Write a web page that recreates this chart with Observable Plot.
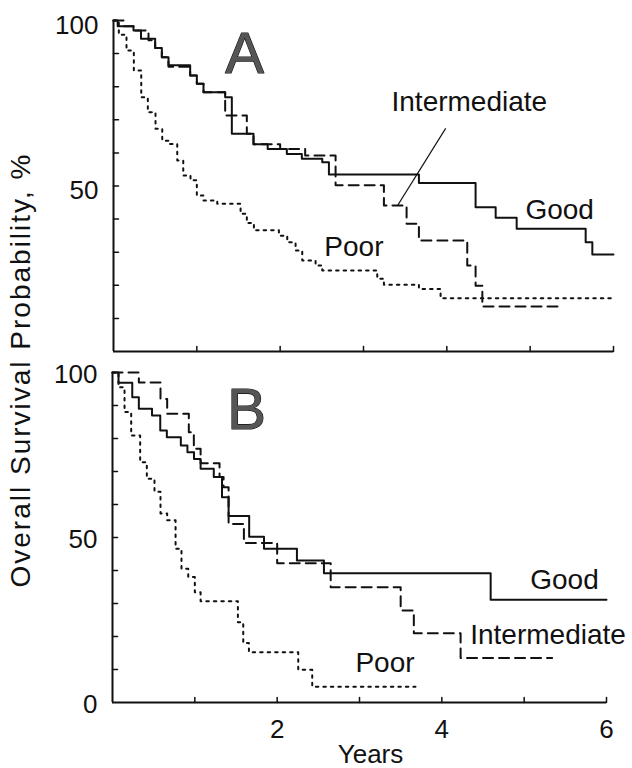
<!DOCTYPE html>
<html><head><meta charset="utf-8">
<script src="https://cdn.jsdelivr.net/npm/d3@7"></script>
<script src="https://cdn.jsdelivr.net/npm/@observablehq/plot@0.6"></script>
<style>
body{margin:0;background:#fff;}
#wrap{position:relative;width:632px;height:768px;font-family:"Liberation Sans",Arial,sans-serif;overflow:hidden;background:#fff;}
#wrap svg{position:absolute;left:0;}
#ylab{position:absolute;z-index:5;left:21px;top:370px;transform:translate(-50%,-50%) rotate(-90deg);white-space:nowrap;font-size:28px;letter-spacing:2px;color:#111;}
</style></head><body><div id="wrap"><div id="ylab">Overall Survival Probability, %</div></div>
<script>
// ---- Panel A data (years, overall survival %) ----
const aGoodYears = [0,0.05,0.24,0.33,0.5,0.58,0.66,0.92,1.0,1.08,1.34,1.42,1.68,1.85,2.08,2.26,2.505,2.585,3.665,4.345,4.586,4.838,5.666,5.746,6.0];
const aGoodSurv  = [100,98.3,97,94.5,91.7,88.9,86.5,83.4,80.9,78.3,76.8,65.8,62.6,61.2,59.7,58.2,57.2,53.5,50.9,43.6,40.4,37.1,33.0,29.3,29.3];
const aInterYears = [0,0.12,0.24,0.42,0.5,0.58,0.66,0.92,1.0,1.08,1.34,1.6,1.68,2.0,2.3,2.665,3.245,3.517,3.665,4.245,4.345,4.426,5.366];
const aInterSurv  = [100,98.3,97,94,91.7,88.9,86,83.4,80.9,78.3,71.3,65.8,62.6,61.2,59.2,50.2,44.1,38.6,33.5,26.0,19.9,13.6,13.6];
const aPoorYears = [0,0.064,0.156,0.244,0.333,0.412,0.504,0.585,0.672,0.765,0.837,0.924,1.0,1.08,1.245,1.525,1.6,1.685,1.985,2.085,2.185,2.265,2.425,2.505,3.165,3.245,3.665,3.925,6.0];
const aPoorSurv  = [100,95.7,90.9,84.9,76.8,72.3,67.3,63.7,62.7,57.7,53.2,51.7,47.1,45.6,44.6,41.6,38.8,36.6,35.0,33.0,30.5,27.5,26.0,24.5,22.0,20.2,18.9,16.1,16.1];

// ---- Panel B data ----
const bGoodYears = [0,0.073,0.24,0.32,0.48,0.58,0.66,0.83,0.91,0.99,1.07,1.23,1.33,1.41,1.66,1.84,2.24,2.568,4.593,6.0];
const bGoodSurv  = [100,96.9,92.5,89,87,82.4,80.4,77.9,75.8,73.8,70.8,68.3,62.2,56.5,50.2,46.6,43.0,39.2,31.1,31.1];
const bInterYears = [0,0.32,0.583,0.664,0.927,0.988,1.07,1.3,1.349,1.41,1.596,2.0,2.65,3.5,3.66,4.228,5.34];
const bInterSurv  = [100,97,92,87.5,81.9,76.9,72.5,68.3,65.2,54.1,48.3,42.2,34.9,27.9,21.0,13.5,13.5];
const bPoorYears = [0,0.073,0.146,0.227,0.336,0.417,0.51,0.583,0.664,0.766,0.838,0.92,1.0,1.07,1.523,1.588,1.657,2.256,2.426,3.68];
const bPoorSurv  = [100,95.5,88,80.9,72.8,67.8,63.9,57.3,55.2,46.6,40.5,38.0,33.4,30.7,24.3,18.0,15.2,9.9,4.8,4.8];

// ---- ticks and labels ----
const yMinorTicks = [10,20,30,40,50,60,70,80,90];
const xMinorTicks = [1,2,3,4,5,6];
const yTickLabelsA = [50,100];
const yTickLabelsB = [0,50,100];
const xTickLabelsB = [2,4,6];
const groupLabelsA = [
  {name:"Intermediate", t:4.27, s:75.3},
  {name:"Good", t:5.354, s:42.6},
  {name:"Poor", t:2.885, s:31.5}
];
const groupLabelsB = [
  {name:"Good", t:5.49, s:37.0},
  {name:"Intermediate", t:5.29, s:20.3},
  {name:"Poor", t:3.31, s:12.0}
];
const leaderA = [{t1:3.986, s1:67.4, t2:3.409, s2:44.1}];
const panelLetterA = [{name:"A", t:1.573, s:89.7}];
const panelLetterB = [{name:"B", t:1.628, s:88.5}];

const rows = (years, surv) => years.map((t, i) => ({t, s: surv[i]}));
const tickShape = {draw(ctx, l) { ctx.moveTo(0, 0); ctx.lineTo(0, -l); }};
const FONT = "'Liberation Sans', Arial, sans-serif";

function panel(cfg) {
  const marks = [
    Plot.ruleX([0], {strokeWidth: 2}),
    Plot.ruleY([0], {strokeWidth: 2}),
    Plot.vector(yMinorTicks, {x: 0, y: d => d, length: 5, rotate: 90, anchor: "start", shape: tickShape, strokeWidth: 1.5}),
    Plot.vector(xMinorTicks, {x: d => d, y: 0, length: 5, rotate: 0, anchor: "start", shape: tickShape, strokeWidth: 1.5}),
    Plot.line(cfg.good, {x: "t", y: "s", curve: "step-after", strokeWidth: 2}),
    Plot.line(cfg.inter, {x: "t", y: "s", curve: "step-after", strokeWidth: 2, strokeDasharray: "10,6"}),
    Plot.line(cfg.poor, {x: "t", y: "s", curve: "step-after", strokeWidth: 2, strokeDasharray: "2.5,5"}),
    Plot.text(cfg.yLabels, {x: 0, y: d => d, text: d => String(d), textAnchor: "end", dx: -15, dy: cfg.yLabelDy, fontSize: 26}),
    Plot.text(cfg.groups, {x: "t", y: "s", text: "name", fontSize: 28, textAnchor: "middle", lineAnchor: "middle"}),
    Plot.text(cfg.letter, {x: "t", y: "s", text: "name", fontSize: 58, fill: "#555", stroke: "#111", strokeWidth: 1.2, lineAnchor: "middle"})
  ];
  if (cfg.leader) marks.push(Plot.link(cfg.leader, {x1: "t1", y1: "s1", x2: "t2", y2: "s2", strokeWidth: 1.2}));
  if (cfg.xLabels) {
    marks.push(Plot.text(cfg.xLabels, {x: d => d, y: 0, text: d => String(d), dy: 27, fontSize: 26, lineAnchor: "middle"}));
    marks.push(Plot.text(["Years"], {frameAnchor: "bottom", dx: 11, dy: 52, fontSize: 26, lineAnchor: "middle"}));
  }
  return Plot.plot({
    width: 632, height: cfg.height,
    marginLeft: cfg.mL, marginRight: cfg.mR, marginTop: cfg.mT, marginBottom: cfg.mB,
    x: {domain: [0, 6], axis: null},
    y: {domain: [0, 100], axis: null},
    style: {fontFamily: FONT, color: "#111", background: "transparent", overflow: "visible"},
    marks
  });
}

const wrap = document.getElementById("wrap");
const plotA = panel({
  height: 360, mL: 113, mR: 19, mT: 20, mB: 9,
  good: rows(aGoodYears, aGoodSurv), inter: rows(aInterYears, aInterSurv), poor: rows(aPoorYears, aPoorSurv),
  yLabels: yTickLabelsA, yLabelDy: 5, groups: groupLabelsA, letter: panelLetterA, leader: leaderA
});
plotA.style.top = "0px";
const plotB = panel({
  height: 408, mL: 112, mR: 26, mT: 12, mB: 66,
  good: rows(bGoodYears, bGoodSurv), inter: rows(bInterYears, bInterSurv), poor: rows(bPoorYears, bPoorSurv),
  yLabels: yTickLabelsB, yLabelDy: 2, groups: groupLabelsB, letter: panelLetterB, xLabels: xTickLabelsB
});
plotB.style.top = "360px";
wrap.appendChild(plotA);
wrap.appendChild(plotB);
</script></body></html>
